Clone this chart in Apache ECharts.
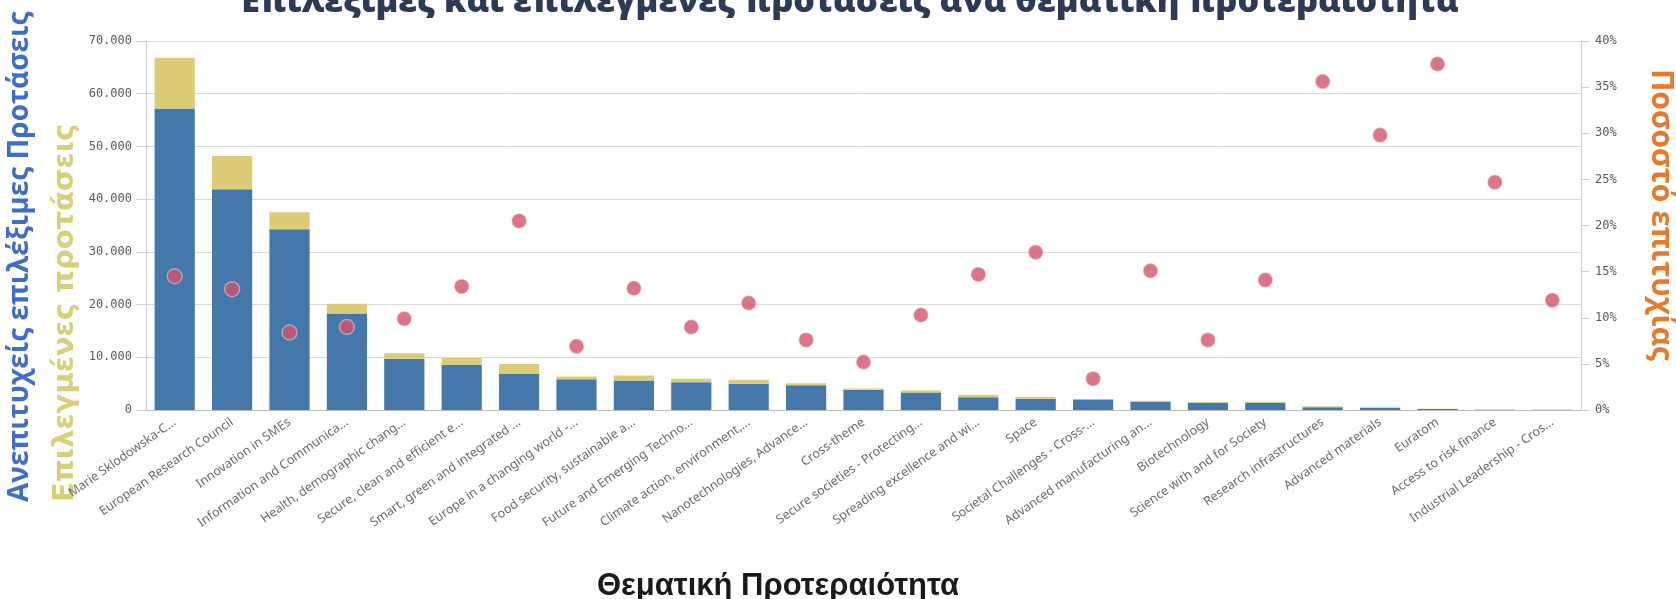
<!DOCTYPE html>
<html>
<head>
<meta charset="utf-8">
<script src="https://cdn.jsdelivr.net/npm/echarts@6/dist/echarts.min.js"></script>
<style>
  html, body { margin: 0; padding: 0; background: #fff; }
  #chart { width: 1676px; height: 599px; }
</style>
</head>
<body>
<div id="chart"></div>
<script>
// θεματικές προτεραιότητες (άξονας x)
var categories = [
    "Marie Sklodowska-C...", "European Research Council", "Innovation in SMEs",
    "Information and Communica...", "Health, demographic chang...", "Secure, clean and efficient e...",
    "Smart, green and integrated ...", "Europe in a changing world -...", "Food security, sustainable a...",
    "Future and Emerging Techno...", "Climate action, environment,...", "Nanotechnologies, Advance...",
    "Cross-theme", "Secure societies - Protecting...", "Spreading excellence and wi...",
    "Space", "Societal Challenges - Cross-...", "Advanced manufacturing an...",
    "Biotechnology", "Science with and for Society", "Research infrastructures",
    "Advanced materials", "Euratom", "Access to risk finance", "Industrial Leadership - Cros..."
];
// ανεπιτυχείς επιλέξιμες προτάσεις
var rejected = [57200, 41900, 34300, 18300, 9700, 8600, 6850, 5850, 5600, 5280, 4960, 4700,
    3820, 3300, 2420, 2150, 1970, 1520, 1390, 1390, 510, 380, 190, 60, 30];
// επιλεγμένες προτάσεις
var selected = [9600, 6300, 3200, 1850, 1080, 1250, 1900, 500, 950, 630, 760, 390,
    250, 380, 450, 380, 90, 250, 130, 190, 190, 130, 60, 20, 5];
// ποσοστό επιτυχίας (%)
var successRate = [14.5, 13.1, 8.4, 9.0, 9.9, 13.4, 20.5, 6.9, 13.2, 9.0, 11.6, 7.6,
    5.2, 10.3, 14.7, 17.1, 3.4, 15.1, 7.6, 14.1, 35.6, 29.8, 37.5, 24.7, 11.9];

var chart = echarts.init(document.getElementById('chart'));

var monoLabel = {
    fontFamily: 'DejaVu Sans Mono',
    fontSize: 12,
    color: '#5a5a5a'
};

var option = {
    animation: false,
    grid: { left: 146, right: 95, top: 41, bottom: 189, containLabel: false },
    xAxis: {
        type: 'category',
        data: categories,
        axisLine: { lineStyle: { color: '#bdbdbd' } },
        axisTick: { show: false },
        axisLabel: {
            rotate: 35,
            margin: 11,
            interval: 0,
            fontFamily: 'Noto Sans',
            fontSize: 12.5,
            color: '#6a6a6a'
        }
    },
    yAxis: [{
        type: 'value',
        min: 0,
        max: 70000,
        interval: 10000,
        axisLine: { show: true, lineStyle: { color: '#cfcfcf' } },
        axisTick: { show: true, length: 10, lineStyle: { color: '#cfcfcf' } },
        splitLine: { lineStyle: { color: '#d9d9d9' } },
        axisLabel: Object.assign({
            margin: 14,
            formatter: function (v) {
                return v === 0 ? '0' : (v / 1000) + '.000';
            }
        }, monoLabel)
    }, {
        type: 'value',
        min: 0,
        max: 40,
        interval: 5,
        position: 'right',
        axisLine: { show: true, lineStyle: { color: '#cfcfcf' } },
        axisTick: { show: true, length: 8, lineStyle: { color: '#cfcfcf' } },
        splitLine: { show: false },
        axisLabel: Object.assign({
            margin: 14,
            formatter: '{value}%'
        }, monoLabel)
    }],
    series: [{
        name: 'Ανεπιτυχείς επιλέξιμες Προτάσεις',
        type: 'bar',
        stack: 'total',
        barCategoryGap: '30%',
        data: rejected,
        itemStyle: { color: '#4477aa' }
    }, {
        name: 'Επιλεγμένες προτάσεις',
        type: 'bar',
        stack: 'total',
        data: selected,
        itemStyle: { color: '#ddcc77' }
    }, {
        name: 'Ποσοστό επιτυχίας',
        type: 'scatter',
        yAxisIndex: 1,
        symbolSize: 15,
        data: successRate,
        itemStyle: {
            color: '#d4536c',
            borderColor: 'rgba(255,255,255,0.5)',
            borderWidth: 1.5
        },
        z: 5
    }],
    graphic: [{
        type: 'text',
        x: 850,
        y: 2,
        style: {
            text: 'Επιλέξιμες και επιλεγμένες προτάσεις ανά θεματική προτεραιότητα',
            fontFamily: 'Open Sans',
            fontWeight: 800,
            fontSize: 34,
            fill: '#2c3a56',
            align: 'center',
            verticalAlign: 'middle'
        }
    }, {
        // τίτλος αριστερού άξονα (μπλε)
        type: 'text',
        x: 20,
        y: 502,
        rotation: Math.PI / 2,
        style: {
            text: 'Ανεπιτυχείς επιλέξιμες Προτάσεις',
            fontFamily: 'Open Sans',
            fontWeight: 'bold',
            fontSize: 28,
            fill: '#3e6ec6',
            align: 'left',
            verticalAlign: 'middle'
        }
    }, {
        type: 'text',
        x: 65,
        y: 502,
        rotation: Math.PI / 2,
        style: {
            text: 'Επιλεγμένες προτάσεις',
            fontFamily: 'DejaVu Sans',
            fontWeight: 'bold',
            fontSize: 29,
            fill: '#d8cf7a',
            align: 'left',
            verticalAlign: 'middle'
        }
    }, {
        // τίτλος δεξιού άξονα
        type: 'text',
        x: 1661,
        y: 215,
        rotation: -Math.PI / 2,
        style: {
            text: 'Ποσοστό επιτυχίας',
            fontFamily: 'Open Sans',
            fontWeight: 'bold',
            fontSize: 30,
            fill: '#e8782a',
            align: 'center',
            verticalAlign: 'middle'
        }
    }, {
        type: 'text',
        x: 778,
        y: 586,
        style: {
            text: 'Θεματική Προτεραιότητα',
            fontFamily: 'Liberation Sans',
            fontWeight: 'bold',
            fontSize: 31,
            fill: '#1a1a1a',
            align: 'center',
            verticalAlign: 'middle'
        }
    }]
};
chart.setOption(option);
</script>
</body>
</html>
